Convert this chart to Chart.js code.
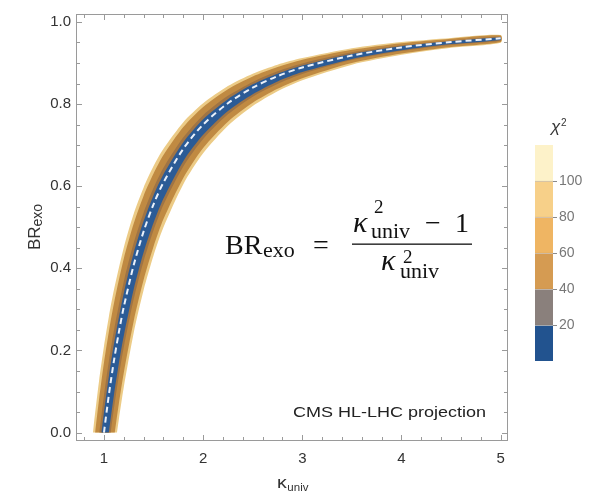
<!DOCTYPE html>
<html>
<head>
<meta charset="utf-8">
<script src="https://cdn.jsdelivr.net/npm/chart.js@4.4.1/dist/chart.umd.min.js"></script>
<style>
  html, body { margin: 0; padding: 0; background: #fff; }
  #wrap { position: relative; width: 606px; height: 494px; }
  #main { position: absolute; left: 0; top: 0; }
  #bar { position: absolute; left: 525px; top: 115px; }
</style>
</head>
<body>
<div id="wrap">
  <canvas id="main" width="606" height="494"></canvas>
  <canvas id="bar" width="81" height="260"></canvas>
</div>
<script>
// [kappa_univ, BR_exo] points

// dashed centre line
const centreLine = [[1.0,0],[1.05,0.093],[1.1,0.174],[1.15,0.244],[1.2,0.306],[1.3,0.408],[1.4,0.49],[1.5,0.556],[1.6,0.609],[1.8,0.691],[2.0,0.75],[2.25,0.802],[2.5,0.84],[2.75,0.868],[3.0,0.889],[3.5,0.918],[4.0,0.938],[4.5,0.951],[5.0,0.96]];

// outer edge of the band (pale fringe)
const edge100Lo = [[0.889,0],[0.9,0.025],[0.95,0.125],[1.0,0.21],[1.05,0.283],[1.1,0.347],[1.2,0.451],[1.3,0.533],[1.4,0.597],[1.5,0.649],[1.6,0.691],[1.8,0.756],[2.0,0.802],[2.25,0.844],[2.5,0.874],[2.75,0.896],[3.0,0.912],[3.5,0.936],[4.0,0.951],[4.5,0.961],[5.0,0.968]];
const edge100Hi = [[1.131,0],[1.15,0.032],[1.2,0.111],[1.3,0.243],[1.4,0.347],[1.5,0.431],[1.6,0.5],[1.8,0.605],[2.0,0.68],[2.25,0.747],[2.5,0.795],[2.75,0.831],[3.0,0.858],[3.5,0.896],[4.0,0.92],[4.5,0.937],[5.0,0.949]];

// orange part
const edge80Lo = [[0.911,0],[0.95,0.08],[1.0,0.17],[1.05,0.247],[1.1,0.314],[1.2,0.424],[1.3,0.509],[1.4,0.577],[1.5,0.631],[1.6,0.676],[1.8,0.744],[2.0,0.793],[2.25,0.836],[2.5,0.867],[2.75,0.89],[3.0,0.908],[3.5,0.932],[4.0,0.948],[4.5,0.959],[5.0,0.967]];
const edge80Hi = [[1.109,0],[1.15,0.07],[1.2,0.146],[1.3,0.272],[1.4,0.372],[1.5,0.453],[1.6,0.52],[1.8,0.62],[2.0,0.693],[2.25,0.757],[2.5,0.803],[2.75,0.837],[3.0,0.863],[3.5,0.9],[4.0,0.923],[4.5,0.939],[5.0,0.951]];

// brown part next to the blue
const edge40Lo = [[0.954,0],[1.0,0.09],[1.05,0.175],[1.1,0.248],[1.2,0.368],[1.3,0.462],[1.4,0.536],[1.5,0.596],[1.6,0.645],[1.8,0.719],[2.0,0.773],[2.25,0.82],[2.5,0.854],[2.75,0.88],[3.0,0.899],[3.5,0.926],[4.0,0.943],[4.5,0.955],[5.0,0.964]];
const edge40Hi = [[1.068,0],[1.1,0.058],[1.15,0.138],[1.2,0.208],[1.3,0.325],[1.4,0.418],[1.5,0.493],[1.6,0.555],[1.8,0.648],[2.0,0.715],[2.25,0.775],[2.5,0.818],[2.75,0.849],[3.0,0.873],[3.5,0.907],[4.0,0.929],[4.5,0.944],[5.0,0.954]];

// blue core
const edge20Lo = [[0.975,0],[1.0,0.05],[1.05,0.138],[1.1,0.215],[1.2,0.34],[1.3,0.438],[1.4,0.515],[1.5,0.578],[1.6,0.629],[1.8,0.707],[2.0,0.763],[2.25,0.812],[2.5,0.848],[2.75,0.874],[3.0,0.894],[3.5,0.922],[4.0,0.941],[4.5,0.953],[5.0,0.962]];
const edge20Hi = [[1.049,0],[1.1,0.091],[1.15,0.168],[1.2,0.236],[1.3,0.349],[1.4,0.439],[1.5,0.511],[1.6,0.57],[1.8,0.661],[2.0,0.725],[2.25,0.783],[2.5,0.824],[2.75,0.855],[3.0,0.878],[3.5,0.91],[4.0,0.931],[4.5,0.946],[5.0,0.956]];

const xTicks = [1, 2, 3, 4, 5];
const yTicks = [0, 0.2, 0.4, 0.6, 0.8, 1.0];

// colour bar
const chiLevels = [0, 20, 40, 60, 80, 100, 120];
const chiTicks = [20, 40, 60, 80, 100];
const chiColours = ['#22538f', '#8a807c', '#d59b52', '#efb563', '#f7d089', '#fdf2c9'];

const toPts = arr => arr.map(p => ({x: p[0], y: p[1]}));
// closed shape: up one edge, back down the other
const ring = (lo, hi) => toPts(lo.concat(hi.slice().reverse()));

const band = (lo, hi, colour) => ({
    data: ring(lo, hi),
    showLine: true,
    fill: 'shape',
    backgroundColor: colour,
    borderWidth: 0,
    pointRadius: 0,
    tension: 0.25,
});

const serif = '"Liberation Serif", "Times New Roman", serif';
const sans = '"Liberation Sans", Arial, sans-serif';

const decorations = {
    id: 'decorations',
    afterDraw(chart) {
        const {ctx, chartArea: a, scales: {x, y}} = chart;
        ctx.save();

        // frame with inward ticks on all sides
        ctx.strokeStyle = '#9a9a9a';
        ctx.lineWidth = 1;
        ctx.strokeRect(a.left + 0.5, a.top + 0.5, a.right - a.left - 1, a.bottom - a.top - 1);
        ctx.beginPath();
        for (let i = 4; i <= 25; i++) {
            const px = Math.round(x.getPixelForValue(i / 5)) + 0.5;
            const len = i % 5 === 0 ? 6 : 4;
            ctx.moveTo(px, a.bottom); ctx.lineTo(px, a.bottom - len);
            ctx.moveTo(px, a.top); ctx.lineTo(px, a.top + len);
        }
        for (let i = 0; i <= 20; i++) {
            const py = Math.round(y.getPixelForValue(i / 20)) + 0.5;
            const len = i % 4 === 0 ? 6 : 4;
            ctx.moveTo(a.left, py); ctx.lineTo(a.left + len, py);
            ctx.moveTo(a.right, py); ctx.lineTo(a.right - len, py);
        }
        ctx.stroke();

        ctx.textAlign = 'left';
        ctx.textBaseline = 'alphabetic';

        // y title BR_exo
        ctx.fillStyle = '#333';
        ctx.save();
        ctx.translate(40, 227);
        ctx.rotate(-Math.PI / 2);
        ctx.font = '17px ' + sans;
        const w1 = ctx.measureText('BR').width;
        ctx.font = '14px ' + sans;
        const w2 = ctx.measureText('exo').width;
        const x0 = -(w1 + w2) / 2;
        ctx.font = '17px ' + sans;
        ctx.fillText('BR', x0, 0);
        ctx.font = '14px ' + sans;
        ctx.fillText('exo', x0 + w1, 2);
        ctx.restore();

        // x title kappa_univ
        ctx.save();
        ctx.translate(277, 488);
        ctx.scale(1.15, 1);
        ctx.font = '17px ' + sans;
        ctx.fillText('κ', 0, 0);
        const wk = ctx.measureText('κ').width;
        ctx.font = '10px ' + sans;
        ctx.fillText('univ', wk + 0.5, 3);
        ctx.restore();

        // CMS label
        ctx.save();
        ctx.fillStyle = '#222';
        ctx.translate(293, 417);
        ctx.scale(1.2, 1);
        ctx.font = '15px ' + sans;
        ctx.fillText('CMS HL-LHC projection', 0, 0);
        ctx.restore();

        // formula
        ctx.fillStyle = '#111';
        ctx.font = '28px ' + serif;
        ctx.fillText('BR', 225, 254);
        ctx.font = '22px ' + serif;
        ctx.fillText('exo', 263, 257);
        ctx.font = '28px ' + serif;
        ctx.fillText('=', 313, 254);
        ctx.fillRect(352, 243.5, 120, 1.3);
        ctx.font = 'italic 30px ' + serif;
        ctx.fillText('κ', 353, 232);
        ctx.font = '19px ' + serif;
        ctx.fillText('2', 374, 213);
        ctx.font = '22px ' + serif;
        ctx.fillText('univ', 371, 238);
        ctx.font = '28px ' + serif;
        ctx.fillText('−', 425, 232);
        ctx.fillText('1', 455, 232);
        ctx.font = 'italic 30px ' + serif;
        ctx.fillText('κ', 381, 270);
        ctx.font = '19px ' + serif;
        ctx.fillText('2', 403, 263);
        ctx.font = '22px ' + serif;
        ctx.fillText('univ', 400, 278);

        ctx.restore();
    }
};

new Chart(document.getElementById('main'), {
    type: 'scatter',
    data: {
        // datasets are painted last-to-first, so the dashed line and core come first
        datasets: [
            {
                data: toPts(centreLine),
                showLine: true,
                fill: false,
                borderColor: '#eaf1fb',
                borderWidth: 2,
                borderDash: [6, 4],
                pointRadius: 0,
                tension: 0.3,
            },
            band(edge20Lo, edge20Hi, '#2b5b96'),
            band(edge40Lo, edge40Hi, '#a07444'),
            band(edge80Lo, edge80Hi, '#c08a42'),
            band(edge100Lo, edge100Hi, '#eccb86'),
        ]
    },
    options: {
        responsive: false,
        animation: false,
        events: [],
        layout: { padding: { left: 0, right: 98, top: 10, bottom: 0 } },
        plugins: {
            legend: { display: false },
            tooltip: { enabled: false },
        },
        scales: {
            x: {
                type: 'linear',
                min: 0.718,
                max: 5.074,
                grid: { display: false, drawTicks: false },
                border: { display: false },
                afterBuildTicks: s => { s.ticks = xTicks.map(v => ({value: v})); },
                afterFit: s => { s.height = 53; },
                ticks: {
                    padding: 9,
                    color: '#333',
                    font: { family: sans, size: 15 },
                    callback: v => String(v),
                },
            },
            y: {
                type: 'linear',
                min: -0.0205,
                max: 1.0193,
                grid: { display: false, drawTicks: false },
                border: { display: false },
                afterBuildTicks: s => { s.ticks = yTicks.map(v => ({value: v})); },
                afterFit: s => { s.width = 76; },
                ticks: {
                    padding: 5,
                    color: '#333',
                    font: { family: sans, size: 15 },
                    callback: v => v.toFixed(1),
                },
            },
        },
    },
    plugins: [decorations],
});

const chiLabel = {
    id: 'chiLabel',
    afterDraw(chart) {
        const {ctx, chartArea: a} = chart;
        ctx.save();
        ctx.fillStyle = '#333';
        ctx.textBaseline = 'alphabetic';
        ctx.font = 'italic 17px ' + sans;
        ctx.fillText('χ', 26, a.top - 13);
        ctx.font = '10px ' + sans;
        ctx.fillText('2', 36, a.top - 19);
        ctx.restore();
    }
};

new Chart(document.getElementById('bar'), {
    type: 'bar',
    data: {
        labels: [''],
        datasets: chiColours.map((c, i) => ({
            data: [chiLevels[i + 1] - chiLevels[i]],
            backgroundColor: c,
            borderColor: 'rgba(90,60,30,0.3)',
            borderWidth: i < chiColours.length - 1 ? {top: 1, left: 0, right: 0, bottom: 0} : 0,
            borderSkipped: false,
            barPercentage: 1,
            categoryPercentage: 1,
        })),
    },
    options: {
        responsive: false,
        animation: false,
        events: [],
        layout: { padding: { left: 10, right: 0, top: 30, bottom: 14 } },
        plugins: {
            legend: { display: false },
            tooltip: { enabled: false },
        },
        scales: {
            x: { stacked: true, display: false },
            y: {
                stacked: true,
                position: 'right',
                min: 0,
                max: 120,
                border: { display: false },
                grid: { drawOnChartArea: false, drawTicks: true, tickLength: 4, color: '#8a8a8a' },
                afterBuildTicks: s => { s.ticks = chiTicks.map(v => ({value: v})); },
                afterFit: s => { s.width = 53; },
                ticks: {
                    padding: 2,
                    color: '#777',
                    font: { family: sans, size: 14 },
                },
            },
        },
    },
    plugins: [chiLabel],
});
</script>
</body>
</html>
